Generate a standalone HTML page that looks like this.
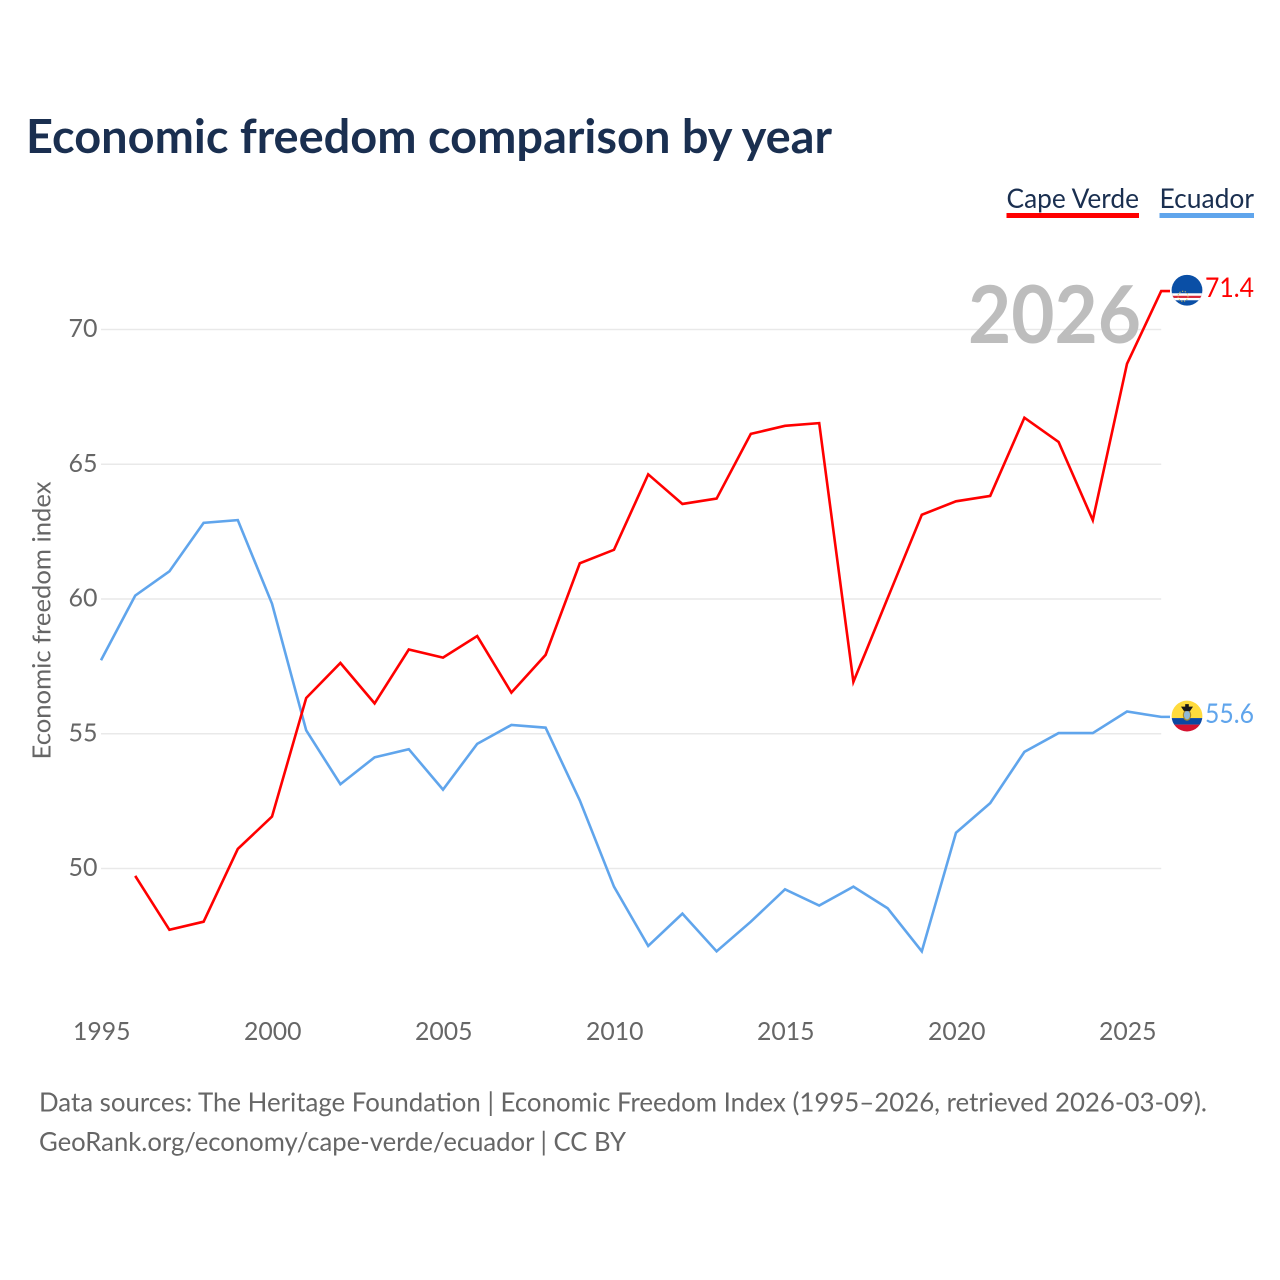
<!DOCTYPE html>
<html lang="en">
<head>
<meta charset="utf-8">
<title>Economic freedom comparison by year</title>
<style>
html,body{margin:0;padding:0;background:#fff;}
svg{display:block;}
text{font-family:"Lato","Carlito","Liberation Sans",sans-serif;}
</style>
</head>
<body>
<svg id="chart" width="1280" height="1280" viewBox="0 0 1280 1280" xmlns="http://www.w3.org/2000/svg">
<defs>
<clipPath id="flag-clip"><circle cx="0" cy="0" r="15.4"></circle></clipPath>
</defs>
<rect width="1280" height="1280" fill="#fff"></rect>
<text x="26" y="153" font-size="47" font-weight="700" fill="#1a2f50" textLength="806" lengthAdjust="spacingAndGlyphs">Economic freedom comparison by year</text>
<g>
<g>
<text x="1006.5" y="208" font-size="27" fill="#1a2f50" textLength="132.5" lengthAdjust="spacingAndGlyphs">Cape Verde</text>
<rect x="1006.5" y="213" width="132.5" height="5" fill="#ff0000"></rect>
</g>
<g>
<text x="1159.5" y="208" font-size="27" fill="#1a2f50" textLength="94.5" lengthAdjust="spacingAndGlyphs">Ecuador</text>
<rect x="1159.5" y="213" width="94.5" height="5" fill="#60a5ec"></rect>
</g>
</g>
<text transform="translate(50.5,620.5) rotate(-90)" text-anchor="middle" font-size="25" fill="#666" textLength="278" lengthAdjust="spacingAndGlyphs">Economic freedom index</text>
<g id="grid"></g>
<g id="y-ticks"></g>
<g id="x-ticks"></g>
<text x="968" y="343" font-size="80" font-weight="700" fill="#bdbdbd" textLength="173" lengthAdjust="spacingAndGlyphs">2026</text>
<g id="series"></g>
<g id="end-markers">
<g id="flag-cape-verde">
<g clip-path="url(#flag-clip)">
<rect x="-16" y="-16" width="32" height="32" fill="#0a4fa6"></rect>
<rect x="-16" y="3" width="32" height="7" fill="#fff"></rect>
<rect x="-16" y="5.5" width="32" height="2.2" fill="#d8283a"></rect>
<circle cx="-4" cy="6" r="5" fill="none" stroke="#d9c35a" stroke-width="1" stroke-dasharray="1.2 1.6"></circle>
</g>
</g>
<g id="flag-ecuador">
<g clip-path="url(#flag-clip)">
<rect x="-16" y="-16" width="32" height="18" fill="#ffdb3d"></rect>
<rect x="-16" y="2" width="32" height="6.5" fill="#0b47a1"></rect>
<rect x="-16" y="8.5" width="32" height="8" fill="#d5122f"></rect>
<ellipse cx="0" cy="-1" rx="3.6" ry="5" fill="#8fb8d8" stroke="#a88a2a" stroke-width="1.2"></ellipse>
<path d="M-6-9.5 L6-9.5 L3-5 L-3-5Z M-1.8-12 h3.6 v3 h-3.6Z" fill="#1a1a1a"></path>
</g>
</g>
<text id="value-cape-verde" x="1205" font-size="27" fill="#ff0000" textLength="49" lengthAdjust="spacingAndGlyphs"></text>
<text id="value-ecuador" x="1205" font-size="27" fill="#60a5ec" textLength="49" lengthAdjust="spacingAndGlyphs"></text>
</g>
<g>
<text x="39" y="1111.5" font-size="26.4" fill="#666" textLength="1168" lengthAdjust="spacingAndGlyphs">Data sources: The Heritage Foundation | Economic Freedom Index (1995–2026, retrieved 2026-03-09).</text>
<text x="39" y="1151" font-size="26.4" fill="#666" textLength="587" lengthAdjust="spacingAndGlyphs">GeoRank.org/economy/cape-verde/ecuador | CC BY</text>
</g>
</svg>
<script>
const years = [1995,1996,1997,1998,1999,2000,2001,2002,2003,2004,2005,2006,2007,2008,2009,2010,2011,2012,2013,2014,2015,2016,2017,2018,2019,2020,2021,2022,2023,2024,2025,2026];
const capeVerdeValues = [null,49.7,47.7,48.0,50.7,51.9,56.3,57.6,56.1,58.1,57.8,58.6,56.5,57.9,61.3,61.8,64.6,63.5,63.7,66.1,66.4,66.5,56.9,60.0,63.1,63.6,63.8,66.7,65.8,62.9,68.7,71.4];
const ecuadorValues = [57.7,60.1,61.0,62.8,62.9,59.8,55.1,53.1,54.1,54.4,52.9,54.6,55.3,55.2,52.5,49.3,47.1,48.3,46.9,48.0,49.2,48.6,49.3,48.5,46.9,51.3,52.4,54.3,55.0,55.0,55.8,55.6];
const yTickValues = [50,55,60,65,70];
const xTickValues = [1995,2000,2005,2010,2015,2020,2025];

const NS = 'http://www.w3.org/2000/svg';
function xScale(year){ return 101 + (year - 1995) * (1127 - 101) / 30; }
function yScale(value){ return 867.8 - (value - 50) * (867.8 - 328.8) / 20; }
function make(tag, parent){
  const el = document.createElementNS(NS, tag);
  parent.appendChild(el);
  return el;
}

const gridGroup = document.getElementById('grid');
const yTickGroup = document.getElementById('y-ticks');
yTickValues.forEach(function(v){
  const line = make('line', gridGroup);
  
  
  line.setAttribute('x1', 101);
  line.setAttribute('x2', xScale(2026));
  line.setAttribute('y1', yScale(v) + 0.7);
  line.setAttribute('y2', yScale(v) + 0.7);
  line.setAttribute('stroke', '#e9e9e9');
  line.setAttribute('stroke-width', '1.5');
  const label = make('text', yTickGroup);
  
  
  label.setAttribute('x', 68.5);
  label.setAttribute('y', yScale(v) + 8.2);
  label.setAttribute('font-size', '25');
  label.setAttribute('fill', '#666');
  label.setAttribute('textLength', '29');
  label.setAttribute('lengthAdjust', 'spacingAndGlyphs');
  label.textContent = String(v);
});

const xTickGroup = document.getElementById('x-ticks');
xTickValues.forEach(function(y){
  const label = make('text', xTickGroup);
  
  
  label.setAttribute('x', xScale(y) - 28);
  label.setAttribute('y', 1040);
  label.setAttribute('font-size', '25');
  label.setAttribute('fill', '#666');
  label.setAttribute('textLength', '57.5');
  label.setAttribute('lengthAdjust', 'spacingAndGlyphs');
  label.textContent = String(y);
});

function linePath(values){
  let d = '';
  let lastY = 0;
  values.forEach(function(v, i){
    if (v === null) return;
    lastY = yScale(v);
    d += (d ? ' L' : 'M') + xScale(years[i]).toFixed(2) + ' ' + lastY.toFixed(2);
  });
  d += ' L1170 ' + lastY.toFixed(2);
  return d;
}

const seriesGroup = document.getElementById('series');
const ecuadorLine = make('path', seriesGroup);


ecuadorLine.setAttribute('d', linePath(ecuadorValues));
ecuadorLine.setAttribute('fill', 'none');
ecuadorLine.setAttribute('stroke', '#60a5ec');
ecuadorLine.setAttribute('stroke-width', '2.6');

const capeVerdeLine = make('path', seriesGroup);


capeVerdeLine.setAttribute('d', linePath(capeVerdeValues));
capeVerdeLine.setAttribute('fill', 'none');
capeVerdeLine.setAttribute('stroke', '#ff0000');
capeVerdeLine.setAttribute('stroke-width', '2.6');

const cvLast = capeVerdeValues[capeVerdeValues.length - 1];
const ecLast = ecuadorValues[ecuadorValues.length - 1];
document.getElementById('flag-cape-verde').setAttribute('transform', 'translate(1187,' + (yScale(cvLast) - 0.8).toFixed(2) + ')');
document.getElementById('flag-ecuador').setAttribute('transform', 'translate(1187,' + (yScale(ecLast) - 0.8).toFixed(2) + ')');
const cvText = document.getElementById('value-cape-verde');
cvText.setAttribute('y', (yScale(cvLast) + 6).toFixed(2));
cvText.textContent = cvLast.toFixed(1);
const ecText = document.getElementById('value-ecuador');
ecText.setAttribute('y', (yScale(ecLast) + 6).toFixed(2));
ecText.textContent = ecLast.toFixed(1);
</script>
</body>
</html>
